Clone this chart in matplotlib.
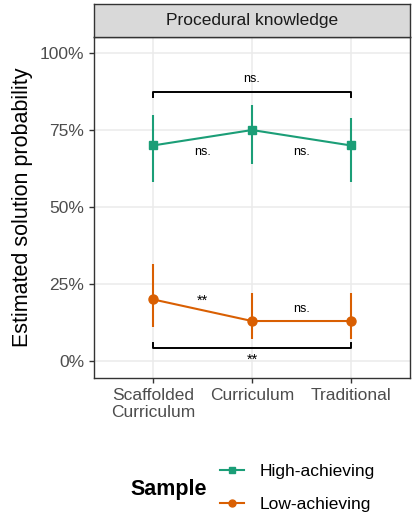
import matplotlib.pyplot as plt
from matplotlib.lines import Line2D

plt.rcParams['font.family'] = ['Liberation Sans', 'DejaVu Sans']

conditions = ["Scaffolded\nCurriculum", "Curriculum", "Traditional"]
x = [1, 2, 3]

high = [0.70, 0.75, 0.70]
high_lo = [0.58, 0.64, 0.58]
high_hi = [0.80, 0.83, 0.79]

low = [0.20, 0.13, 0.13]
low_lo = [0.11, 0.07, 0.07]
low_hi = [0.315, 0.22, 0.22]

green = "#1B9E77"
orange = "#D95F02"

W, H = 413, 514
fig = plt.figure(figsize=(W / 100, H / 100), dpi=100)

# panel
ax = fig.add_axes([94 / W, (H - 378) / H, 316 / W, (378 - 37) / H])
ax.set_xlim(0.4, 3.6)
ax.set_ylim(-0.055, 1.052)
ax.set_yticks([0, 0.25, 0.5, 0.75, 1.0])
ax.set_yticklabels(["0%", "25%", "50%", "75%", "100%"])
ax.set_xticks(x)
ax.set_xticklabels(conditions, linespacing=1.15)
ax.grid(True, color="#EBEBEB", linewidth=1.1)
ax.set_axisbelow(True)
for s in ax.spines.values():
    s.set_color("#333333")
    s.set_linewidth(1.0)
ax.tick_params(colors="#333333", labelcolor="#4D4D4D", labelsize=12.5, length=3.5, width=1)
ax.set_ylabel("Estimated solution probability", fontsize=15.5, labelpad=5)

def draw(vals, lo, hi, col, mk, ms):
    yerr = [[v - l for v, l in zip(vals, lo)], [h - v for v, h in zip(vals, hi)]]
    ax.errorbar(x, vals, yerr=yerr, color=col, marker=mk, markersize=ms,
                linewidth=1.5, elinewidth=1.5, capsize=0, zorder=3)

draw(high, high_lo, high_hi, green, "s", 6)
draw(low, low_lo, low_hi, orange, "o", 6.5)

# significance brackets
ax.plot([1, 1, 3, 3], [0.857, 0.873, 0.873, 0.857], color="black", linewidth=1.4)
ax.text(2, 0.915, "ns.", ha="center", va="center", fontsize=9)
ax.plot([1, 1, 3, 3], [0.058, 0.042, 0.042, 0.058], color="black", linewidth=1.4)
ax.text(2, 0.005, "**", ha="center", va="center", fontsize=10.5)

ax.text(1.5, 0.679, "ns.", ha="center", va="center", fontsize=9)
ax.text(2.5, 0.679, "ns.", ha="center", va="center", fontsize=9)
ax.text(1.5, 0.195, "**", ha="center", va="center", fontsize=10.5)
ax.text(2.5, 0.17, "ns.", ha="center", va="center", fontsize=9)

# facet strip
sax = fig.add_axes([94 / W, (H - 37) / H, 316 / W, 33 / H])
sax.set_facecolor("#D9D9D9")
sax.set_xticks([])
sax.set_yticks([])
for s in sax.spines.values():
    s.set_color("#333333")
    s.set_linewidth(1.0)
sax.text(0.5, 0.5, "Procedural knowledge", ha="center", va="center",
         fontsize=12.5, color="#1A1A1A", transform=sax.transAxes)

# legend
handles = [
    Line2D([], [], color=green, marker="s", markersize=5, linewidth=1.5),
    Line2D([], [], color=orange, marker="o", markersize=5, linewidth=1.5),
]
fig.legend(handles, ["High-achieving", "Low-achieving"], loc="center left",
           bbox_to_anchor=(204 / W, 1 - 488 / H), frameon=False, fontsize=12.5,
           handlelength=1.4, labelspacing=1.0, handletextpad=0.9)
fig.text(130 / W, 1 - 490 / H, "Sample", fontsize=15.5, fontweight="bold",
         ha="left", va="center")

fig.savefig("out.png", dpi=100)
